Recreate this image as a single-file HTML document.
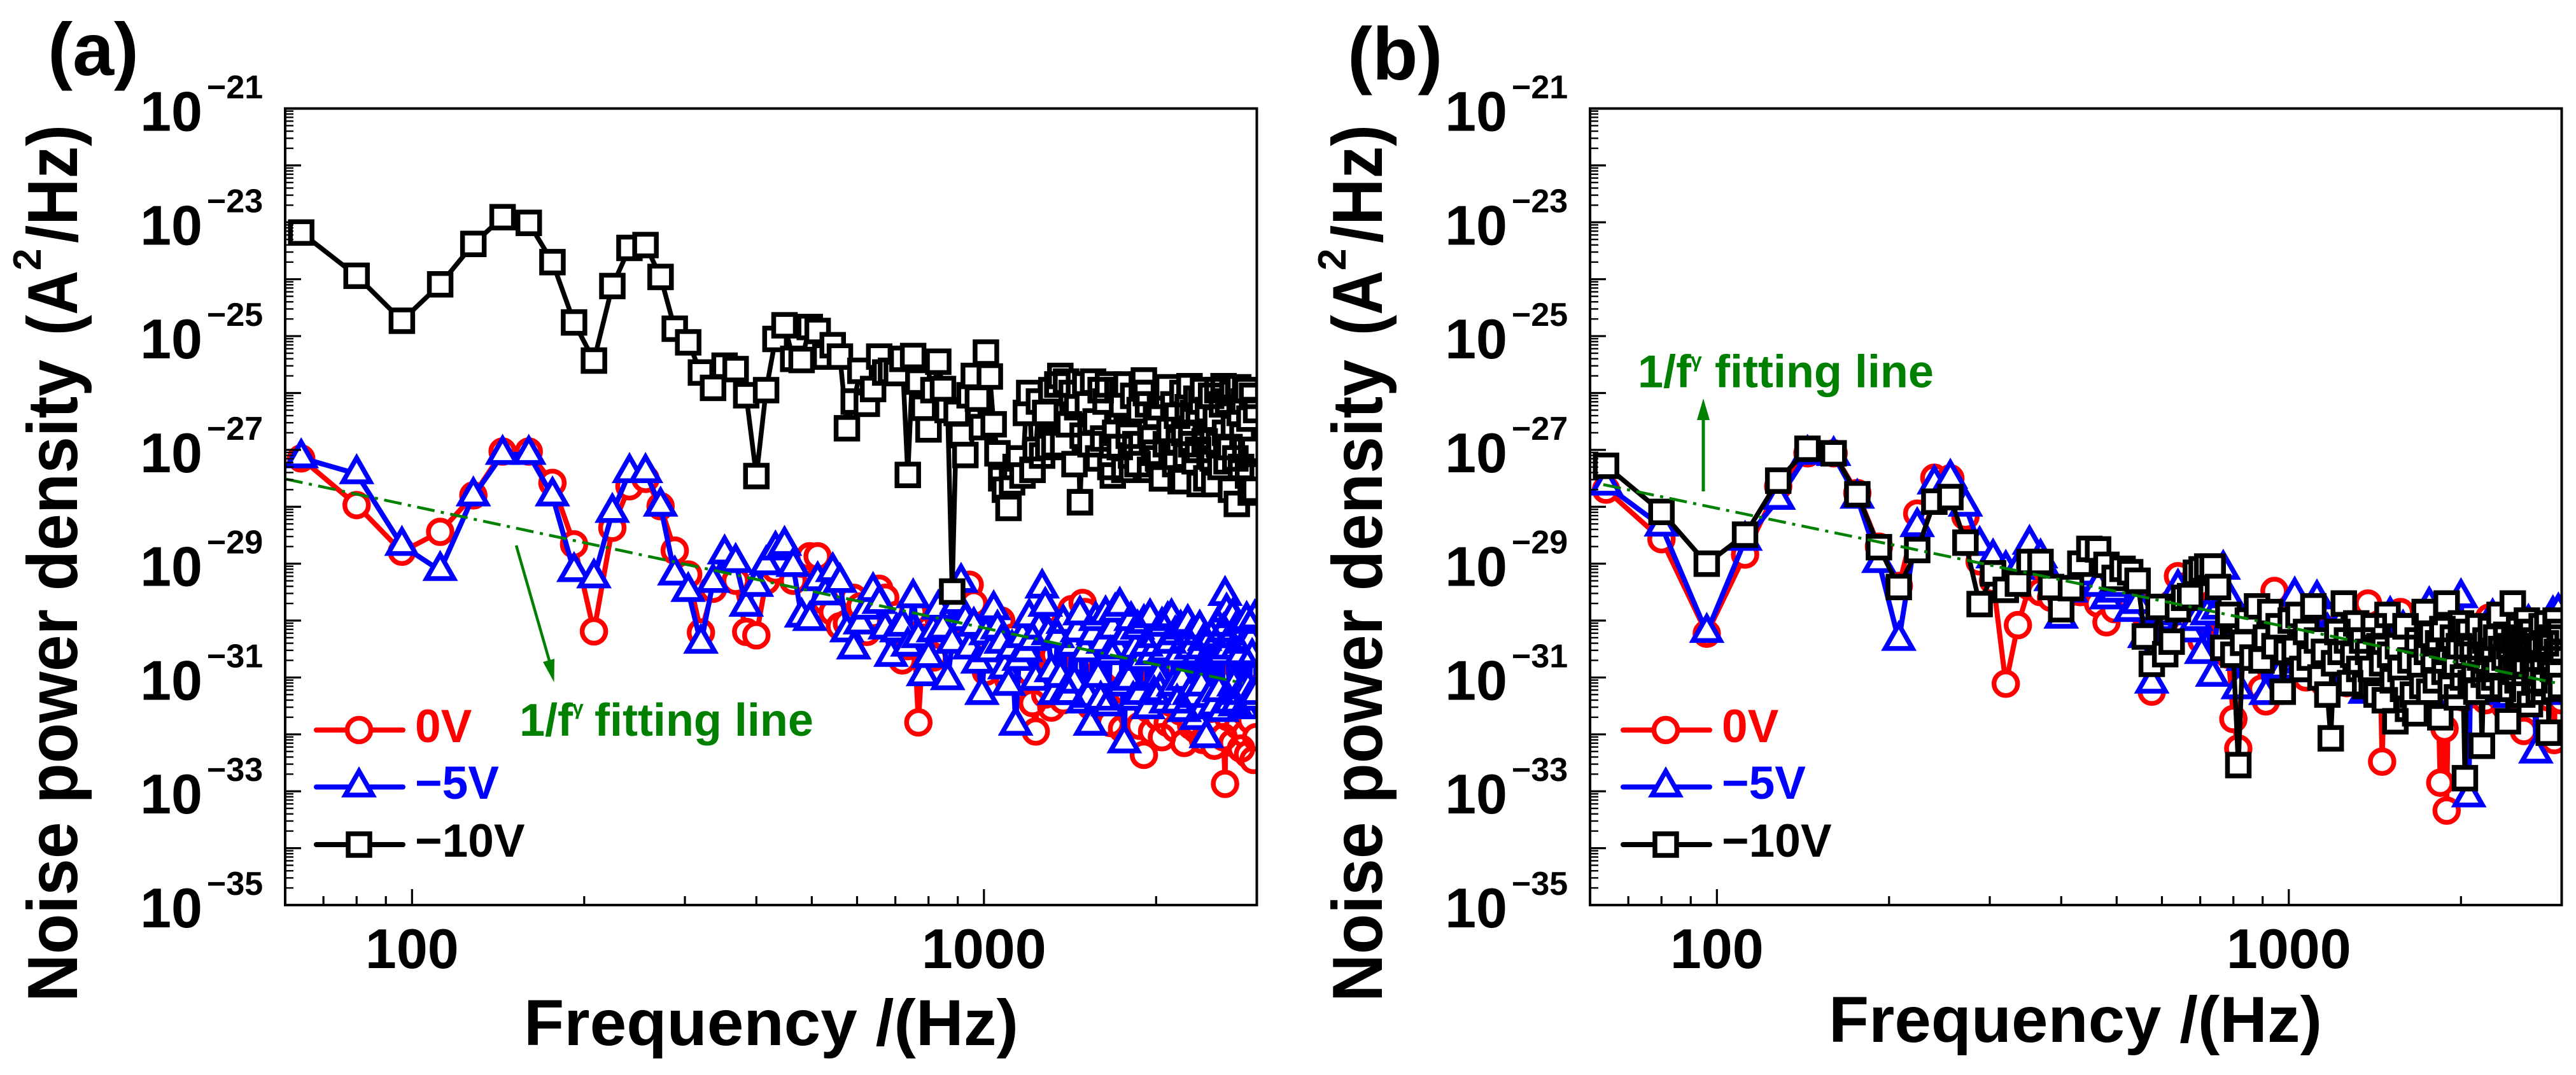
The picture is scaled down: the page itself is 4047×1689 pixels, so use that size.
<!DOCTYPE html>
<html lang="en">
<head>
<meta charset="utf-8">
<title>Noise power density vs frequency</title>
<style>
html,body{margin:0;padding:0;background:#fff}
svg{display:block}
text{font-family:"Liberation Sans",Arial,sans-serif;font-weight:700;fill:#000}
</style>
</head>
<body>
<svg id="figure" xmlns="http://www.w3.org/2000/svg" width="4047" height="1689" viewBox="0 0 4047 1689">
<rect width="4047" height="1689" fill="#fff"/>
<defs>
<clipPath id="clip-a"><rect x="448" y="170.5" width="1526.5" height="1251.5"/></clipPath>
<clipPath id="clip-b"><rect x="2498" y="170.5" width="1526.5" height="1251.5"/></clipPath>
</defs>

<text x="75" y="118" font-size="117">(a)</text>
<text x="2117" y="125" font-size="117">(b)</text>

<g>
<text transform="translate(121,1574) rotate(-90)" font-size="111" textLength="1009" lengthAdjust="spacingAndGlyphs">Noise power density</text>
<text transform="translate(121,527) rotate(-90)" font-size="111" textLength="102" lengthAdjust="spacingAndGlyphs">(A</text>
<text transform="translate(64,425) rotate(-90)" font-size="62">2</text>
<text transform="translate(121,382) rotate(-90)" font-size="111" textLength="186" lengthAdjust="spacingAndGlyphs">/Hz)</text>
</g>
<g>
<text transform="translate(2171,1574) rotate(-90)" font-size="111" textLength="1009" lengthAdjust="spacingAndGlyphs">Noise power density</text>
<text transform="translate(2171,527) rotate(-90)" font-size="111" textLength="102" lengthAdjust="spacingAndGlyphs">(A</text>
<text transform="translate(2114,425) rotate(-90)" font-size="62">2</text>
<text transform="translate(2171,382) rotate(-90)" font-size="111" textLength="186" lengthAdjust="spacingAndGlyphs">/Hz)</text>
</g>
<text x="823" y="1642" font-size="102" textLength="777" lengthAdjust="spacingAndGlyphs">Frequency /(Hz)</text>
<text x="2873" y="1637" font-size="102" textLength="775" lengthAdjust="spacingAndGlyphs">Frequency /(Hz)</text>

<g id="panel-a"></g>
<g id="panel-b"></g>

<g fill="#008000">
<line x1="811" y1="857" x2="865" y2="1045" stroke="#008000" stroke-width="4.5"/>
<polygon points="870.5,1072 853,1040 871,1035" fill="#008000"/>
<text x="816" y="1156" font-size="72" style="fill:#008000">1/f</text>
<text x="899" y="1123" font-size="32" style="fill:#008000">γ</text>
<text x="934" y="1156" font-size="72" style="fill:#008000">fitting line</text>
</g>
<g fill="#008000">
<line x1="2676" y1="772" x2="2676" y2="650" stroke="#008000" stroke-width="5"/>
<polygon points="2676,626 2666,660 2686,660" fill="#008000"/>
<text x="2573" y="608.5" font-size="72" style="fill:#008000">1/f</text>
<text x="2656" y="577" font-size="32" style="fill:#008000">γ</text>
<text x="2694" y="608.5" font-size="72" style="fill:#008000">fitting line</text>
</g>
</svg>
<script>
const frequencies=[
64,80,96,112,128,144,160,176,192,208,
224,240,256,272,288,304,320,336,352,368,
384,400,416,432,448,464,480,496,512,528,
544,560,576,592,608,624,640,656,672,688,
704,720,736,752,768,784,800,816,832,848,
864,880,896,912,928,944,960,976,992,1008,
1024,1040,1056,1072,1088,1104,1120,1136,1152,1168,
1184,1200,1216,1232,1248,1264,1280,1296,1312,1328,
1344,1360,1376,1392,1408,1424,1440,1456,1472,1488,
1504,1520,1536,1552,1568,1584,1600,1616,1632,1648,
1664,1680,1696,1712,1728,1744,1760,1776,1792,1808,
1824,1840,1856,1872,1888,1904,1920,1936,1952,1968,
1984,2000,2016,2032,2048,2064,2080,2096,2112,2128,
2144,2160,2176,2192,2208,2224,2240,2256,2272,2288,
2304,2320,2336,2352,2368,2384,2400,2416,2432,2448,
2464,2480,2496,2512,2528,2544,2560,2576,2592,2608,
2624,2640,2656,2672,2688,2704,2720,2736,2752,2768,
2784,2800,2816,2832,2848,2864,2880,2896,2912,2928,
2944,2960,2976,2992];

const panelA0V=[
-27.15,-27.97,-28.79,-28.44,-27.80,-27.03,-27.03,-27.58,-28.66,-30.19,
-28.37,-27.64,-27.51,-27.99,-28.77,-29.19,-30.21,-29.44,-29.25,-29.30,
-30.20,-30.26,-29.30,-29.10,-29.00,-29.30,-29.00,-28.87,-28.87,-29.66,
-29.85,-30.10,-30.05,-29.60,-29.75,-30.20,-29.90,-29.44,-29.60,-30.00,
-29.90,-30.70,-30.45,-29.85,-31.79,-30.30,-30.55,-30.65,-29.95,-30.25,
-30.10,-30.00,-29.70,-29.55,-29.80,-29.37,-29.70,-30.20,-30.60,-30.90,
-30.40,-30.15,-30.70,-30.00,-30.55,-31.05,-30.30,-30.85,-30.50,-31.00,
-30.35,-30.90,-31.45,-31.95,-30.55,-30.25,-31.30,-30.45,-31.53,-30.60,
-30.95,-30.15,-31.40,-29.95,-30.45,-29.80,-31.20,-30.10,-30.70,-29.69,
-29.85,-30.35,-31.50,-30.20,-31.05,-31.75,-30.30,-30.75,-31.60,-30.40,
-31.80,-30.50,-31.35,-30.15,-30.85,-31.90,-30.35,-31.25,-30.45,-31.65,
-30.60,-31.30,-30.25,-31.85,-30.70,-32.36,-30.45,-31.55,-30.60,-31.95,
-30.65,-31.40,-31.69,-30.45,-32.05,-30.35,-31.15,-31.80,-30.55,-31.45,
-30.40,-31.90,-30.75,-30.50,-31.60,-30.65,-32.15,-31.00,-30.45,-31.50,
-31.85,-30.55,-31.35,-31.92,-30.70,-30.45,-31.70,-32.10,-30.60,-31.25,
-31.95,-30.65,-31.55,-30.50,-32.20,-31.05,-30.55,-31.80,-31.30,-30.70,
-32.05,-32.87,-30.85,-31.70,-30.60,-31.45,-32.15,-30.75,-31.47,-30.65,
-31.85,-30.90,-32.25,-30.70,-31.60,-32.00,-30.85,-32.35,-31.05,-31.75,
-30.90,-32.45,-31.20,-32.05];

const panelAMinus5V=[
-27.14,-27.42,-28.68,-29.12,-27.81,-27.08,-27.08,-27.81,-29.14,-29.25,
-28.10,-27.40,-27.40,-27.99,-29.20,-29.49,-30.40,-29.33,-28.83,-28.98,
-29.75,-29.40,-29.02,-28.76,-28.68,-29.05,-29.94,-30.00,-29.30,-29.55,
-29.14,-29.33,-30.20,-30.50,-30.06,-29.80,-29.49,-29.70,-30.15,-30.63,
-30.20,-30.10,-30.45,-29.60,-30.30,-30.97,-30.65,-30.20,-29.80,-30.15,
-31.04,-30.40,-29.70,-29.33,-30.00,-30.50,-30.10,-30.75,-31.30,-30.25,
-30.55,-29.81,-30.15,-30.40,-30.85,-31.14,-30.50,-31.84,-30.70,-30.30,
-30.55,-29.95,-30.35,-31.05,-30.15,-29.43,-29.75,-30.25,-30.90,-31.30,
-30.30,-31.00,-30.05,-31.25,-31.30,-30.45,-31.10,-30.20,-29.90,-31.45,
-30.55,-31.35,-31.84,-30.25,-30.00,-31.00,-31.40,-30.40,-29.90,-31.50,
-30.60,-30.15,-29.85,-30.50,-29.75,-31.15,-32.15,-30.25,-31.05,-30.00,
-31.40,-30.50,-30.15,-31.30,-30.70,-30.05,-30.45,-31.55,-29.95,-30.60,
-31.30,-30.30,-31.00,-31.25,-30.10,-30.55,-31.45,-30.00,-30.40,-29.95,
-31.15,-30.25,-31.45,-30.60,-30.15,-31.05,-31.60,-30.35,-30.05,-31.30,
-30.50,-30.25,-31.35,-31.74,-30.60,-30.15,-31.15,-31.55,-30.35,-32.06,
-30.65,-31.35,-30.30,-30.55,-31.50,-30.40,-30.10,-31.25,-30.60,-31.60,
-30.20,-29.56,-29.85,-30.50,-31.45,-30.30,-29.95,-31.15,-31.50,-30.50,
-30.10,-31.30,-30.60,-30.25,-31.55,-30.40,-30.00,-31.20,-31.40,-30.35,
-30.65,-30.05,-29.97,-31.30];

const panelAMinus10V=[
-23.18,-23.94,-24.73,-24.09,-23.38,-22.91,-23.01,-23.70,-24.76,-25.43,
-24.12,-23.45,-23.40,-23.96,-24.87,-25.11,-25.64,-25.91,-25.52,-25.58,
-26.04,-27.46,-25.95,-25.05,-24.81,-25.40,-25.42,-24.84,-24.91,-25.36,
-25.16,-25.36,-26.62,-26.15,-25.61,-26.19,-25.93,-25.36,-25.64,-25.61,
-25.65,-25.40,-27.44,-25.35,-25.80,-26.26,-26.64,-25.95,-25.45,-25.93,
-26.30,-29.49,-26.35,-26.74,-27.09,-26.04,-25.70,-26.10,-26.60,-25.29,
-25.71,-26.55,-27.06,-27.50,-27.70,-28.02,-27.57,-27.30,-27.15,-27.45,
-26.35,-26.00,-27.35,-27.00,-26.15,-27.10,-26.35,-26.95,-25.95,-26.90,
-25.85,-25.70,-26.90,-25.80,-26.55,-26.00,-27.25,-26.25,-27.92,-26.75,
-25.85,-26.20,-26.90,-25.80,-26.50,-27.15,-25.95,-26.80,-26.15,-25.85,
-27.30,-27.45,-26.70,-25.95,-26.95,-26.20,-27.35,-25.85,-26.75,-27.10,
-26.05,-26.90,-27.25,-26.30,-25.85,-25.78,-26.00,-26.20,-27.35,-26.80,
-27.05,-26.40,-27.15,-26.25,-27.50,-26.05,-26.90,-25.90,-26.65,-27.05,
-26.20,-27.25,-26.40,-26.85,-27.55,-26.00,-26.70,-27.10,-26.25,-25.88,
-26.90,-26.35,-27.20,-26.10,-27.00,-27.60,-26.15,-25.95,-26.85,-27.50,
-26.30,-27.05,-26.05,-27.15,-27.60,-26.45,-25.95,-26.90,-27.30,-26.20,
-25.88,-26.70,-27.20,-26.15,-26.95,-27.70,-26.00,-26.60,-27.15,-27.95,
-25.90,-26.35,-27.30,-26.75,-26.15,-27.00,-25.95,-27.45,-26.45,-27.75,
-26.05,-27.00,-27.70,-26.30];

const panelB0V=[
-27.70,-28.57,-30.23,-28.84,-27.64,-27.06,-27.06,-27.76,-28.70,-29.39,
-28.12,-27.49,-27.50,-28.17,-28.96,-29.30,-31.11,-30.08,-29.40,-29.50,
-29.60,-29.60,-29.50,-29.50,-29.30,-29.70,-30.03,-29.80,-29.50,-29.60,
-29.70,-29.90,-31.25,-30.20,-30.00,-29.70,-29.22,-29.40,-29.70,-30.10,
-30.35,-30.00,-29.70,-29.60,-30.20,-30.60,-31.73,-32.25,-30.50,-30.20,
-30.00,-30.40,-31.20,-31.42,-30.60,-29.48,-29.90,-30.50,-30.90,-30.30,
-30.00,-30.60,-30.25,-31.00,-30.50,-30.10,-30.70,-30.35,-31.10,-30.60,
-30.95,-30.40,-30.15,-30.70,-30.30,-31.10,-30.55,-30.85,-30.25,-30.70,
-31.00,-30.45,-29.70,-30.85,-31.20,-30.50,-30.15,-32.48,-30.70,-30.95,
-30.35,-30.75,-31.25,-30.50,-29.85,-30.90,-31.35,-30.60,-30.25,-31.10,
-30.70,-30.40,-31.20,-30.85,-30.55,-31.40,-30.30,-30.95,-31.15,-30.65,
-31.30,-32.85,-30.80,-31.90,-33.34,-30.70,-31.10,-30.45,-30.85,-31.25,
-30.55,-30.90,-31.35,-30.65,-30.30,-31.15,-30.75,-31.05,-30.45,-31.30,
-30.85,-30.25,-31.00,-30.60,-31.40,-30.70,-29.95,-30.95,-31.20,-30.50,
-30.80,-31.30,-30.40,-31.05,-30.65,-31.50,-30.25,-30.90,-31.15,-30.55,
-29.85,-31.00,-30.70,-31.35,-30.50,-30.85,-31.20,-31.94,-30.60,-30.35,
-31.00,-30.75,-30.05,-31.30,-30.55,-30.90,-31.15,-30.65,-30.30,-31.25,
-30.80,-31.10,-30.50,-30.95,-31.35,-30.70,-31.05,-30.40,-32.10,-30.85,
-31.20,-30.55,-30.90,-31.40];

const panelBMinus5V=[
-27.62,-28.34,-30.21,-28.59,-27.87,-27.08,-27.10,-27.85,-28.98,-30.35,
-28.35,-27.60,-27.50,-27.99,-28.68,-28.90,-29.10,-29.10,-28.66,-28.90,
-29.30,-29.96,-29.50,-29.30,-29.20,-29.40,-29.62,-29.50,-29.40,-29.84,
-29.70,-30.30,-31.10,-30.00,-29.90,-29.70,-29.43,-29.75,-30.20,-30.00,
-30.58,-29.90,-30.98,-29.80,-29.10,-29.60,-30.30,-31.20,-30.70,-30.10,
-30.45,-29.90,-30.70,-31.30,-30.30,-30.70,-30.05,-30.85,-30.40,-29.95,
-29.57,-30.35,-30.75,-30.10,-30.55,-30.90,-29.62,-30.40,-30.85,-30.20,
-30.70,-30.45,-31.05,-30.25,-29.95,-30.60,-30.90,-30.30,-30.75,-31.10,
-30.50,-31.28,-30.80,-30.35,-31.00,-30.55,-30.15,-30.85,-31.20,-30.45,
-29.91,-30.70,-31.05,-30.30,-30.80,-30.15,-31.25,-30.55,-30.90,-30.35,
-30.75,-31.10,-30.45,-30.10,-30.85,-30.40,-29.74,-30.65,-31.00,-30.30,
-30.80,-31.15,-30.55,-30.25,-30.95,-31.30,-30.45,-30.75,-30.15,-31.05,
-30.60,-29.60,-30.30,-30.85,-31.20,-33.10,-30.70,-31.05,-30.40,-30.85,
-30.25,-30.95,-31.30,-30.55,-30.15,-30.75,-31.10,-30.40,-29.95,-30.65,
-31.00,-30.30,-30.85,-31.25,-30.50,-30.15,-31.05,-30.60,-31.35,-30.35,
-30.80,-30.45,-31.15,-30.25,-30.70,-31.00,-30.40,-30.85,-31.30,-30.55,
-30.05,-30.75,-31.10,-30.35,-30.90,-32.33,-30.60,-30.25,-31.05,-30.70,
-30.40,-31.15,-30.85,-30.30,-30.65,-31.30,-30.50,-29.90,-30.80,-31.20,
-30.45,-29.85,-30.70,-31.05];

const panelBMinus10V=[
-27.28,-28.09,-29.00,-28.49,-27.54,-26.98,-27.06,-27.78,-28.71,-29.41,
-28.76,-27.91,-27.83,-28.63,-29.71,-29.17,-29.46,-29.35,-28.97,-28.97,
-29.41,-29.80,-29.43,-29.00,-28.74,-28.75,-29.02,-29.25,-29.09,-29.15,
-29.30,-30.28,-30.76,-29.76,-30.59,-30.37,-29.80,-29.60,-29.57,-29.16,
-29.10,-29.05,-29.05,-29.41,-30.48,-29.90,-30.60,-32.54,-30.39,-30.00,
-30.65,-29.75,-30.70,-30.30,-29.85,-30.45,-30.10,-31.25,-30.55,-30.00,
-30.50,-29.90,-30.85,-30.20,-30.65,-29.75,-30.35,-31.00,-30.55,-31.30,
-32.07,-30.75,-30.20,-30.55,-29.70,-30.35,-31.10,-30.60,-30.05,-30.85,
-30.35,-31.15,-30.55,-30.85,-30.10,-31.30,-30.45,-30.75,-31.40,-29.90,
-30.60,-31.05,-31.77,-30.45,-30.85,-31.20,-30.10,-31.55,-30.70,-31.30,
-31.63,-30.35,-30.80,-31.15,-29.85,-30.55,-31.25,-30.25,-30.70,-31.05,
-30.40,-31.70,-30.15,-30.90,-29.70,-30.55,-31.15,-30.30,-30.80,-31.35,
-30.45,-30.05,-31.00,-32.77,-30.60,-30.20,-31.10,-30.50,-30.85,-31.25,
-30.10,-30.65,-32.20,-30.95,-30.35,-30.70,-31.15,-30.15,-30.55,-31.00,
-30.30,-30.85,-29.90,-30.50,-31.20,-30.65,-30.25,-31.77,-30.45,-30.90,
-29.70,-30.35,-30.75,-31.05,-30.15,-30.60,-31.30,-30.30,-30.80,-30.00,
-30.50,-31.47,-30.20,-30.70,-31.05,-30.35,-30.90,-31.25,-30.45,-30.10,
-30.75,-31.10,-30.40,-30.05,-31.97,-30.65,-30.30,-30.85,-31.20,-30.00,
-30.55,-30.90,-30.20,-31.15];

const fitFreqA=[60,2838];
const fitLogA=[-27.51,-31.10];
const fitFreqB=[63.3,2976];
const fitLogB=[-27.61,-31.11];

const xTickLabels=[100,1000];
const xMinorTicks=[70,80,90,200,300,400,500,600,700,800,900,2000];
const yDecades=[-21,-22,-23,-24,-25,-26,-27,-28,-29,-30,-31,-32,-33,-34,-35];
const yLabelExponents=[-21,-23,-25,-27,-29,-31,-33,-35];
const legendLabels=['0V','\u22125V','\u221210V'];

const SVG_NS='http://www.w3.org/2000/svg';
const X_MIN=60, X_MAX=3000, Y_TOP=-21, Y_BOTTOM=-35;
const PLOT_W=1526.5, PLOT_TOP=170.5, PLOT_BOTTOM=1422;
const EDGE_PASS_START=70, EDGE_PASS_STEP=4;

function mk(tag,attrs,parent){
  const e=document.createElementNS(SVG_NS,tag);
  for(const k in attrs){e.setAttribute(k,attrs[k]);}
  parent.appendChild(e);
  return e;
}
function fmtExp(n){return '\u2212'+Math.abs(n);}

function drawMarker(kind,color,cx,cy,parent,fill){
  let m;
  if(kind==='circle'){
    m=mk('circle',{cx:cx,cy:cy,r:18.5,fill:fill,stroke:color,'stroke-width':7.5},parent);
  }else if(kind==='triangle'){
    m=mk('path',{d:'M'+cx+' '+(cy-25)+'L'+(cx+21.5)+' '+(cy+12.6)+'L'+(cx-21.5)+' '+(cy+12.6)+'Z',fill:fill,stroke:color,'stroke-width':7.5},parent);
  }else{
    m=mk('rect',{x:cx-17,y:cy-17,width:34,height:34,fill:fill,stroke:color,'stroke-width':7.5},parent);
  }
  return m;
}

function drawPanel(cfg){
  const root=document.getElementById(cfg.id);
  const left=cfg.left;
  const xScale=function(f){
    return left+(Math.log10(f)-Math.log10(X_MIN))/(Math.log10(X_MAX)-Math.log10(X_MIN))*PLOT_W;
  };
  const yScale=function(v){
    return PLOT_TOP+(Y_TOP-v)/(Y_TOP-Y_BOTTOM)*(PLOT_BOTTOM-PLOT_TOP);
  };

  const plot=mk('g',{'clip-path':'url(#'+cfg.clip+')'},root);
  
  

  cfg.series.forEach(function(s){
    const g=mk('g',{},plot);
    
    
    const pts=s.values.map(function(v,i){return xScale(frequencies[i]).toFixed(1)+','+yScale(v).toFixed(1);}).join(' ');
    const line=mk('polyline',{points:pts,fill:'none',stroke:s.color,'stroke-width':s.width,'stroke-linejoin':'round'},g);
    
    
    s.values.forEach(function(v,i){
      const m=drawMarker(s.kind,s.color,xScale(frequencies[i]),yScale(v),g,'#fff');
      
      
    });
    s.values.forEach(function(v,i){
      if(i>=EDGE_PASS_START && i%EDGE_PASS_STEP===0){
        const edge=drawMarker(s.kind,s.color,xScale(frequencies[i]),yScale(v),g,'none');
        
        
      }
    });
  });

  const fit=mk('line',{x1:xScale(cfg.fitFreq[0]),y1:yScale(cfg.fitLog[0]),x2:xScale(cfg.fitFreq[1]),y2:yScale(cfg.fitLog[1]),stroke:'#008000','stroke-width':4.5,'stroke-dasharray':'28 10 5 10'},plot);
  
  

  const axes=mk('g',{stroke:'#000'},root);
  
  

  const frame=mk('rect',{x:left,y:PLOT_TOP,width:PLOT_W,height:PLOT_BOTTOM-PLOT_TOP,fill:'none','stroke-width':4},axes);
  
  

  xTickLabels.forEach(function(f){
    const x=xScale(f);
    const t=mk('line',{x1:x,x2:x,y1:PLOT_BOTTOM,y2:PLOT_BOTTOM-25,'stroke-width':3.2},axes);
    
    
    const lab=mk('text',{x:x,y:1521,'font-size':88,'text-anchor':'middle',stroke:'none'},axes);
    
    
    lab.textContent=String(f);
  });
  xMinorTicks.forEach(function(f){
    const x=xScale(f);
    const t=mk('line',{x1:x,x2:x,y1:PLOT_BOTTOM,y2:PLOT_BOTTOM-14,'stroke-width':3.2},axes);
    
    
  });

  yDecades.forEach(function(d){
    const y=yScale(d);
    const t=mk('line',{x1:left,x2:left+25,y1:y,y2:y,'stroke-width':3.2},axes);
    
    
    if(d===Y_BOTTOM){return;}
    for(let m=9;m>=2;m--){
      const my=yScale(d-1+Math.log10(m));
      const mt=mk('line',{x1:left,x2:left+13,y1:my,y2:my,'stroke-width':2.4},axes);
      
      
    }
  });

  yLabelExponents.forEach(function(e){
    const y=yScale(e);
    const base=mk('text',{x:left-130,y:y+35,'font-size':88,'text-anchor':'end',stroke:'none'},axes);
    
    
    base.textContent='10';
    const sup=mk('text',{x:left-123,y:y-16,'font-size':52,stroke:'none'},axes);
    
    
    sup.textContent=fmtExp(e);
  });

  const legend=mk('g',{},root);
  
  
  const rowY=[1147,1236.5,1327];
  const textY=[1166,1255,1346];
  cfg.series.forEach(function(s,i){
    const entry=mk('g',{},legend);
    
    
    const lx=cfg.legendX;
    const ll=mk('line',{x1:lx,x2:lx+136,y1:rowY[i],y2:rowY[i],stroke:s.color,'stroke-width':8,'stroke-linecap':'round'},entry);
    
    
    const mm=drawMarker(s.kind,s.color,lx+67,rowY[i],entry,'#fff');
    
    
    const tt=mk('text',{x:lx+155,y:textY[i],'font-size':73,style:'fill:'+s.color},entry);
    
    
    tt.textContent=legendLabels[i];
  });
}

drawPanel({id:'panel-a',clip:'clip-a',left:448,legendX:497,fitFreq:fitFreqA,fitLog:fitLogA,series:[
  {name:'0v',kind:'circle',color:'#ff0000',width:8,values:panelA0V},
  {name:'minus-5v',kind:'triangle',color:'#0000ff',width:8,values:panelAMinus5V},
  {name:'minus-10v',kind:'square',color:'#000000',width:7.5,values:panelAMinus10V}
]});
drawPanel({id:'panel-b',clip:'clip-b',left:2498,legendX:2550,fitFreq:fitFreqB,fitLog:fitLogB,series:[
  {name:'0v',kind:'circle',color:'#ff0000',width:8,values:panelB0V},
  {name:'minus-5v',kind:'triangle',color:'#0000ff',width:8,values:panelBMinus5V},
  {name:'minus-10v',kind:'square',color:'#000000',width:7.5,values:panelBMinus10V}
]});
</script>
</body>
</html>
